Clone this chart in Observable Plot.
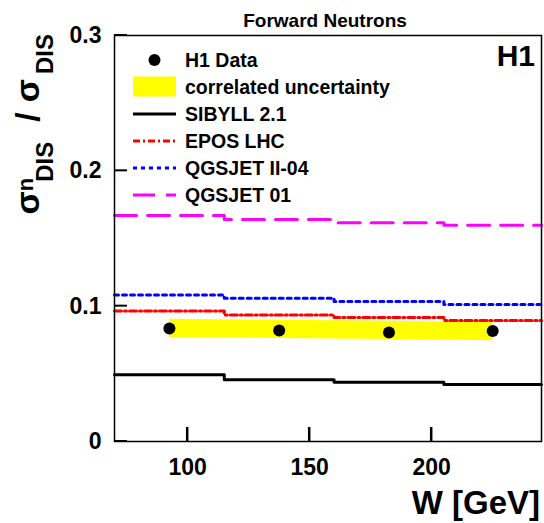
<!DOCTYPE html>
<html><head><meta charset="utf-8">
<script src="https://cdn.jsdelivr.net/npm/d3@7"></script>
<script src="https://cdn.jsdelivr.net/npm/@observablehq/plot@0.6"></script>
<style>body{margin:0;background:#fff} svg{display:block}</style>
</head><body><div id="chart"></div>
<script>
const binEdges = [70, 115, 160, 205, 245];
const sibyll   = [0.0494, 0.0457, 0.0437, 0.0422];
const epos     = [0.0965, 0.0934, 0.0916, 0.0894];
const qgsjet2  = [0.1083, 0.1059, 0.1034, 0.1012];
const qgsjet01 = [0.1670, 0.1640, 0.1616, 0.1597];
const dataW     = [92.5, 137.5, 182.5, 225];
const dataRatio = [0.0835, 0.0820, 0.0806, 0.0816];
const bandLow   = [0.0769, 0.0761, 0.0753, 0.0745];
const bandHigh  = [0.0904, 0.0896, 0.0888, 0.0880];
const xTicks = [100, 150, 200];
const yTicks = [0, 0.1, 0.2, 0.3];
const yTickLabels = ["0", "0.1", "0.2", "0.3"];
const legendLabels = ["H1 Data", "correlated uncertainty", "SIBYLL 2.1", "EPOS LHC", "QGSJET II-04", "QGSJET 01"];

const FONT = "'Liberation Sans', Arial, Helvetica, sans-serif";
const steps = vals => binEdges.map((e, i) => ({W: e, v: vals[Math.min(i, vals.length - 1)]}));
const points = dataW.map((w, i) => ({W: w, r: dataRatio[i], lo: bandLow[i], hi: bandHigh[i]}));

const models = [
  {vals: sibyll,   stroke: "#000000", dash: null},
  {vals: epos,     stroke: "#ff0000", dash: "7,3,2,3"},
  {vals: qgsjet2,  stroke: "#0000ff", dash: "4,4"},
  {vals: qgsjet01, stroke: "#ff00ff", dash: "22,11"}
];

const chart = Plot.plot({
  width: 544, height: 523,
  marginLeft: 114, marginRight: 3, marginTop: 35, marginBottom: 82,
  style: {fontFamily: FONT, background: "white", color: "black"},
  x: {domain: [70, 245], label: null},
  y: {domain: [0, 0.3], label: null},
  marks: [
    Plot.areaY(points, {x: "W", y1: "lo", y2: "hi", fill: "#ffff00", curve: "linear"}),
    ...models.map(m => Plot.line(steps(m.vals), {x: "W", y: "v", curve: "step-after", stroke: m.stroke, strokeWidth: 3, strokeDasharray: m.dash})),
    Plot.dot(points, {x: "W", y: "r", r: 6, fill: "black"}),
    Plot.frame({stroke: "black", strokeWidth: 1.5}),
    Plot.axisX(xTicks, {tickSize: 0, tickPadding: 17, fontSize: 23, fontWeight: "bold", label: null}),
    Plot.axisY(yTicks, {tickSize: 0, tickPadding: 13, fontSize: 23, fontWeight: "bold", label: null,
      tickFormat: d => yTickLabels[yTicks.indexOf(d)]})
  ]
});
document.getElementById("chart").appendChild(chart);

const svg = d3.select(chart);
const sx = chart.scale("x"), sy = chart.scale("y");
const xl = sx.apply(70), yb = sy.apply(0);

// inward ticks (ROOT style), positioned through Plot's own scales
const tk = svg.append("g");
xTicks.forEach(v => {
  const px = sx.apply(v);
  tk.append("line").attr("x1", px).attr("x2", px).attr("y1", yb).attr("y2", yb - 14)
    .attr("stroke", "black").attr("stroke-width", 2.5);
});
yTicks.forEach(v => {
  const py = sy.apply(v);
  tk.append("line").attr("x1", xl).attr("x2", xl + 13).attr("y1", py).attr("y2", py)
    .attr("stroke", "black").attr("stroke-width", 2);
});

const txt = (x, y, s, size, anchor) => svg.append("text").attr("x", x).attr("y", y)
  .attr("font-family", FONT).attr("font-weight", "bold").attr("font-size", size)
  .attr("text-anchor", anchor).attr("fill", "black").text(s);

txt(325, 27, "Forward Neutrons", 19, "middle");
txt(535, 66, "H1", 30, "end");
txt(540, 514, "W [GeV]", 33, "end");

// y-axis label: σ^n_DIS / σ_DIS
const yl = svg.append("text").attr("transform", "translate(39,34) rotate(-90)")
  .attr("text-anchor", "end").attr("font-family", FONT).attr("font-weight", "bold")
  .attr("font-size", 34).attr("fill", "black");
yl.append("tspan").text("σ");
yl.append("tspan").attr("font-size", 22).attr("dy", -6).text("n");
yl.append("tspan").attr("font-size", 24).attr("dx", -4).attr("dy", 20).text("DIS");
yl.append("tspan").attr("dx", 20).attr("dy", -14).text("/");
yl.append("tspan").attr("dx", 10).text("σ");
yl.append("tspan").attr("font-size", 24).attr("dx", 5).attr("dy", 14).text("DIS");

// legend
const rowsY = [60, 86.5, 114, 141, 168, 195];
const lg = svg.append("g");
lg.append("circle").attr("cx", 154.5).attr("cy", rowsY[0]).attr("r", 6).attr("fill", "black");
lg.append("rect").attr("x", 133).attr("y", rowsY[1] - 10).attr("width", 43).attr("height", 20).attr("fill", "#ffff00");
models.forEach((m, i) => {
  lg.append("line").attr("x1", 133).attr("x2", 176).attr("y1", rowsY[i + 2]).attr("y2", rowsY[i + 2])
    .attr("stroke", m.stroke).attr("stroke-width", 3).attr("stroke-dasharray", m.dash);
});
legendLabels.forEach((s, i) => {
  txt(185, rowsY[i], s, 19.5, "start").attr("dy", "0.36em");
});
</script></body></html>
